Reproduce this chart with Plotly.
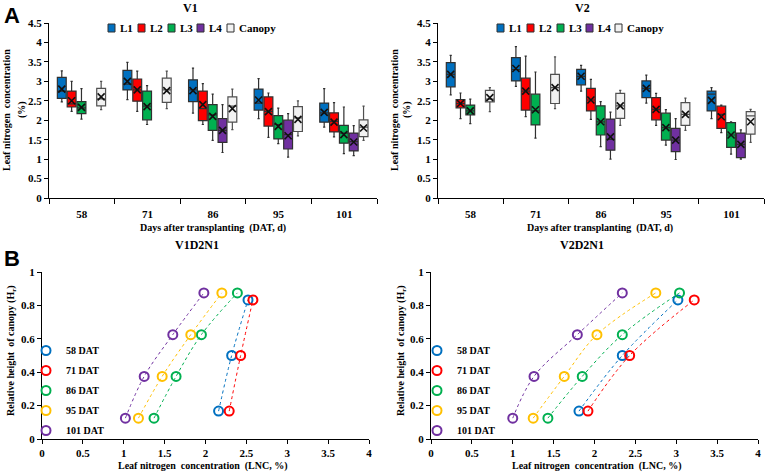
import plotly.graph_objects as go

W, H = 767, 473

# ---------------- data ----------------
dat_labels = ['58', '71', '86', '95', '101']
layers = ['L1', 'L2', 'L3', 'L4', 'Canopy']
layer_colors = ['#0070C0', '#FF0000', '#00B050', '#7030A0', '#F2F2F2']
layer_lines = ['#303030', '#303030', '#303030', '#303030', '#505050']

# V1 box statistics, rows = layers (L1..L4, Canopy), columns = DAT
v1_lower = [[2.47, 2.53, 2.18, 2.04, 1.82],
            [2.23, 2.23, 1.89, 1.56, 1.57],
            [2.03, 1.89, 1.48, 1.40, 1.14],
            [None, None, 1.17, 1.05, 1.09],
            [2.27, 2.30, 1.76, 1.60, 1.48]]
v1_q1 = [[2.56, 2.78, 2.48, 2.26, 1.95],
         [2.34, 2.49, 1.99, 1.85, 1.70],
         [2.17, 2.01, 1.74, 1.52, 1.41],
         [None, None, 1.43, 1.26, 1.21],
         [2.37, 2.46, 1.95, 1.71, 1.58]]
v1_median = [[2.75, 2.93, 2.78, 2.44, 2.19],
             [2.42, 2.78, 2.30, 2.23, 1.97],
             [2.32, 2.36, 2.14, 1.89, 1.67],
             [None, None, 1.74, 1.63, 1.45],
             [2.55, 2.78, 2.36, 2.06, 1.82]]
v1_q3 = [[3.10, 3.28, 3.04, 2.80, 2.44],
         [2.75, 3.06, 2.75, 2.60, 2.19],
         [2.48, 2.75, 2.40, 2.12, 1.87],
         [None, None, 2.04, 2.00, 1.67],
         [2.82, 3.08, 2.60, 2.35, 2.01]]
v1_upper = [[3.27, 3.49, 3.34, 3.07, 2.81],
            [3.00, 3.26, 2.94, 2.70, 2.45],
            [2.81, 2.89, 2.67, 2.31, 2.34],
            [None, None, 2.40, 2.17, 1.86],
            [3.00, 3.26, 2.80, 2.50, 2.36]]
v1_mean = [[2.80, 3.00, 2.76, 2.52, 2.20],
           [2.50, 2.78, 2.40, 2.22, 1.95],
           [2.33, 2.35, 2.10, 1.84, 1.63],
           [None, None, 1.74, 1.60, 1.44],
           [2.60, 2.76, 2.30, 2.02, 1.80]]

# V2 box statistics
v2_lower = [[2.65, 2.87, 2.75, 2.44, 2.04],
            [2.04, 2.09, 2.02, 1.87, 1.68],
            [1.91, 1.54, 1.32, 1.36, 1.13],
            [None, None, 1.00, 0.99, 1.00],
            [2.22, 2.30, 1.87, 1.74, 1.43]]
v2_q1 = [[2.86, 3.01, 2.91, 2.58, 2.24],
         [2.32, 2.26, 2.24, 2.01, 1.79],
         [2.14, 1.88, 1.62, 1.49, 1.30],
         [None, None, 1.23, 1.19, 1.04],
         [2.47, 2.43, 2.05, 1.87, 1.64]]
v2_median = [[3.18, 3.30, 3.13, 2.82, 2.67],
             [2.43, 2.75, 2.52, 2.28, 2.15],
             [2.24, 2.24, 1.96, 1.81, 1.62],
             [None, None, 1.51, 1.49, 1.38],
             [2.54, 2.84, 2.37, 2.15, 2.11]]
v2_q3 = [[3.48, 3.61, 3.31, 3.01, 2.75],
         [2.53, 3.08, 2.82, 2.58, 2.36],
         [2.39, 2.67, 2.37, 2.18, 1.94],
         [None, None, 2.03, 1.79, 1.67],
         [2.77, 3.18, 2.69, 2.45, 2.22]]
v2_upper = [[3.67, 3.89, 3.41, 3.16, 2.84],
            [2.70, 3.65, 3.05, 2.69, 2.39],
            [2.54, 3.24, 2.48, 2.27, 1.96],
            [None, None, 2.21, 2.04, 1.75],
            [2.84, 3.63, 2.77, 2.57, 2.28]]
v2_mean = [[3.18, 3.33, 3.13, 2.82, 2.51],
           [2.43, 2.75, 2.52, 2.28, 2.09],
           [2.24, 2.27, 1.96, 1.81, 1.62],
           [None, None, 1.57, 1.49, 1.38],
           [2.58, 2.84, 2.37, 2.15, 1.96]]

# Panel B: LNC by relative canopy height
dat_series = ['58 DAT', '71 DAT', '86 DAT', '95 DAT', '101 DAT']
dat_colors = ['#0070C0', '#FF0000', '#00B050', '#FFC000', '#7030A0']
hr_values = [[0.167, 0.5, 0.833],
             [0.167, 0.5, 0.833],
             [0.125, 0.375, 0.625, 0.875],
             [0.125, 0.375, 0.625, 0.875],
             [0.125, 0.375, 0.625, 0.875]]
v1d2n1_lnc = [[2.16, 2.32, 2.52],
              [2.29, 2.43, 2.58],
              [1.37, 1.64, 1.95, 2.39],
              [1.18, 1.47, 1.82, 2.20],
              [1.02, 1.25, 1.60, 1.98]]
v2d2n1_lnc = [[1.81, 2.34, 3.02],
              [1.92, 2.43, 3.22],
              [1.43, 1.85, 2.34, 3.04],
              [1.25, 1.63, 2.03, 2.75],
              [1.00, 1.26, 1.79, 2.34]]

# ---------------- styling helpers ----------------
SERIF = 'Liberation Serif, Times New Roman, serif'
slot_offsets = [-0.305, -0.155, -0.005, 0.145, 0.295]
box_width = 0.135


def px(x):
    return x / W


def py(y):
    return 1 - y / H


fig = go.Figure()


def add_boxes(lower, q1, med, q3, upper, mean, xa, ya):
    for li, name in enumerate(layers):
        idx = [i for i in range(len(dat_labels)) if med[li][i] is not None]
        xs = [i + slot_offsets[li] for i in idx]
        fig.add_trace(go.Box(
            x=xs,
            q1=[q1[li][i] for i in idx],
            median=[med[li][i] for i in idx],
            q3=[q3[li][i] for i in idx],
            lowerfence=[lower[li][i] for i in idx],
            upperfence=[upper[li][i] for i in idx],
            width=box_width, whiskerwidth=0.25,
            fillcolor=layer_colors[li],
            line=dict(color=layer_lines[li], width=1.2),
            boxpoints=False, hoverinfo='skip', name=name,
            showlegend=False, xaxis=xa, yaxis=ya))
        fig.add_trace(go.Scatter(
            x=xs, y=[mean[li][i] for i in idx], mode='markers',
            marker=dict(symbol='x-thin', size=7, color='#111111',
                        line=dict(width=1.6, color='#111111')),
            showlegend=False, hoverinfo='skip', xaxis=xa, yaxis=ya))


add_boxes(v1_lower, v1_q1, v1_median, v1_q3, v1_upper, v1_mean, 'x', 'y')
add_boxes(v2_lower, v2_q1, v2_median, v2_q3, v2_upper, v2_mean, 'x2', 'y2')


def add_profiles(lnc, xa, ya, legend):
    for si, name in enumerate(dat_series):
        fig.add_trace(go.Scatter(
            x=lnc[si], y=hr_values[si], mode='lines', name=name,
            line=dict(color=dat_colors[si], width=1, dash='dot', shape='spline'),
            xaxis=xa, yaxis=ya, showlegend=False, hoverinfo='skip'))
        fig.add_trace(go.Scatter(
            x=lnc[si], y=hr_values[si], mode='markers', name=name,
            marker=dict(symbol='circle-open', size=9, color=dat_colors[si],
                        line=dict(width=2, color=dat_colors[si])),
            xaxis=xa, yaxis=ya, legend=legend, legendgroup=legend + name))


add_profiles(v1d2n1_lnc, 'x3', 'y3', 'legend')
add_profiles(v2d2n1_lnc, 'x4', 'y4', 'legend2')

tickfont = dict(family=SERIF, size=11, color='black', weight='bold')
common_axis = dict(showline=True, linecolor='black', linewidth=1.2,
                   showgrid=False, zeroline=False, tickfont=tickfont,
                   tickcolor='black')

a_y_dom = [py(198), py(23)]
b_y_dom = [py(439), py(272)]

cat_x = dict(range=[-0.5, 4.5], tickmode='array', tickvals=list(range(5)),
             ticktext=dat_labels, ticks='', ticklabelstandoff=6,
             minor=dict(tickmode='array',
                        tickvals=[-0.5, 0.5, 1.5, 2.5, 3.5, 4.5],
                        ticks='outside', ticklen=5, tickcolor='black',
                        tickwidth=1.2, showgrid=False))
a_y = dict(range=[0, 4.5], dtick=0.5, ticks='outside', ticklen=4,
           tickwidth=1.2)
b_x = dict(range=[0, 4], dtick=0.5, ticks='outside', ticklen=4, tickwidth=1.2)
b_y = dict(range=[0, 1], dtick=0.2, ticks='outside', ticklen=4, tickwidth=1.2)

legend_common = dict(font=dict(family=SERIF, size=10, color='black',
                               weight='bold'),
                     bgcolor='rgba(0,0,0,0)', itemwidth=30,
                     tracegroupgap=1, xanchor='left', yanchor='top')

fig.update_layout(
    width=W, height=H,
    margin=dict(l=0, r=0, t=0, b=0, autoexpand=False),
    paper_bgcolor='white', plot_bgcolor='white',
    boxmode='overlay',
    xaxis=dict(domain=[px(49), px(377)], anchor='y', **cat_x, **common_axis),
    yaxis=dict(domain=a_y_dom, anchor='x', **a_y, **common_axis),
    xaxis2=dict(domain=[px(438), px(764)], anchor='y2', **cat_x, **common_axis),
    yaxis2=dict(domain=a_y_dom, anchor='x2', **a_y, **common_axis),
    xaxis3=dict(domain=[px(42), px(369)], anchor='y3', **b_x, **common_axis),
    yaxis3=dict(domain=b_y_dom, anchor='x3', **b_y, **common_axis),
    xaxis4=dict(domain=[px(431), px(758)], anchor='y4', **b_x, **common_axis),
    yaxis4=dict(domain=b_y_dom, anchor='x4', **b_y, **common_axis),
    legend=dict(x=px(26), y=py(336), **legend_common),
    legend2=dict(x=px(417), y=py(336), **legend_common),
)

# ---------------- texts ----------------
ann = []


def text(x, y, s, size=11, angle=0, family=SERIF, bold=True, xanchor='center',
         yanchor='middle'):
    ann.append(dict(x=px(x), y=py(y), xref='paper', yref='paper', text=s,
                    showarrow=False, textangle=angle, xanchor=xanchor,
                    yanchor=yanchor,
                    font=dict(family=family, size=size, color='black',
                              weight='bold' if bold else 'normal')))


text(2, 1, 'A', size=22, family='Liberation Sans, Arial, sans-serif',
     xanchor='left', yanchor='top')
text(2, 244, 'B', size=22, family='Liberation Sans, Arial, sans-serif',
     xanchor='left', yanchor='top')
text(190, 8, 'V1', size=12)
text(582, 8, 'V2', size=12)
text(197, 245, 'V1D2N1', size=12)
text(582, 245, 'V2D2N1', size=12)
text(213, 228, 'Days after transplanting  (DAT, d)', size=10)
text(600, 228, 'Days after transplanting  (DAT, d)', size=10)
text(7, 110, 'Leaf nitrogen  concentration', size=10, angle=-90)
text(22, 110, '(%)', size=10, angle=-90)
text(395, 110, 'Leaf nitrogen  concentration', size=10, angle=-90)
text(407, 110, '(%)', size=10, angle=-90)
text(11, 351, 'Relative height  of canopy (H<sub>r</sub>)', size=10, angle=-90)
text(401, 351, 'Relative height  of canopy (H<sub>r</sub>)', size=10, angle=-90)
text(203, 466, 'Leaf nitrogen  concentration  (LNC, %)', size=10)
text(597, 466, 'Leaf nitrogen  concentration  (LNC, %)', size=10)

# compact legends for panel A (box keys)
shapes = []
legend_a_left = [108, 138, 168, 197, 227]
legend_a_right = [497, 527, 557, 586, 615]
for starts in (legend_a_left, legend_a_right):
    for li, name in enumerate(layers):
        x0 = starts[li]
        shapes.append(dict(type='rect', xref='paper', yref='paper',
                           x0=px(x0), x1=px(x0 + 7), y0=py(32), y1=py(24),
                           fillcolor=layer_colors[li],
                           line=dict(color='#303030', width=1)))
        text(x0 + 9.5, 28, name, size=11, xanchor='left')

fig.update_layout(annotations=ann, shapes=shapes)

fig.write_html('out.html',
               config={'displayModeBar': False},
               post_script="document.body.style.margin='0';"
                           "document.body.style.overflow='hidden';")
